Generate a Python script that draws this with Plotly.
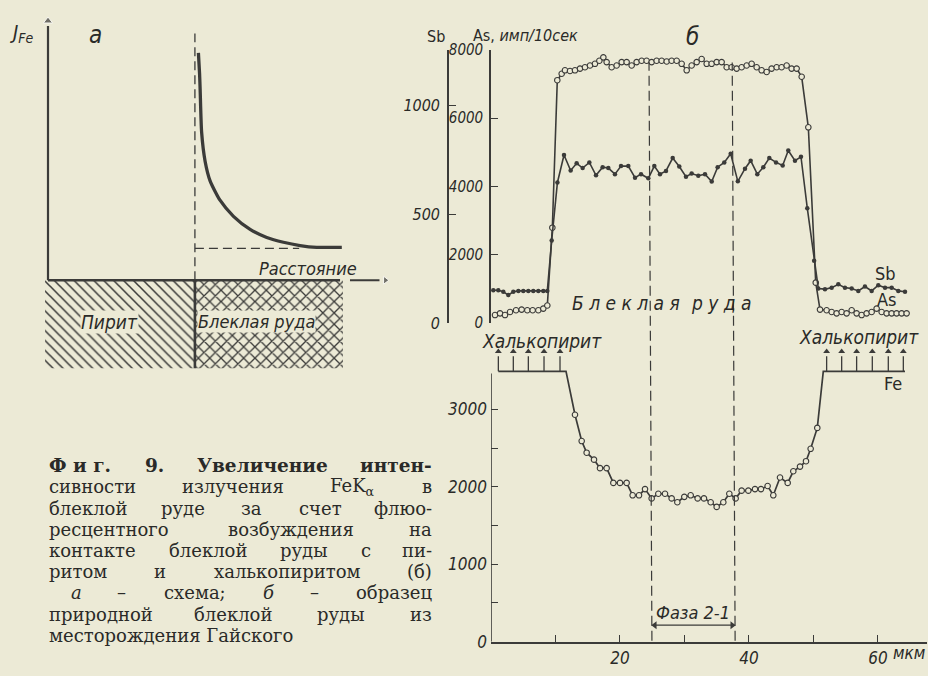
import re
import plotly.graph_objects as go

W, H = 928, 676
BG = "#ecead6"
INK = "#3b3b39"
TXT = "#2a2a28"
NARROW = "Liberation Sans Narrow, DejaVu Sans Condensed, Roboto Condensed, Liberation Sans, sans-serif"
SERIF = "DejaVu Serif, Liberation Serif, serif"

# ---------------- data: panel б, upper graph (As, Sb), x in µm ----------------
as_x = [0.62, 1.40, 2.17, 2.95, 3.88, 4.75, 5.63, 6.46, 7.34, 8.11, 8.73, 9.51, 10.28, 10.96,
        11.47, 12.25, 13.02, 13.80, 14.57, 15.35, 16.12, 16.80, 17.42, 17.93, 18.71, 19.48,
        20.26, 21.03, 21.81, 22.58, 23.36, 24.13, 24.91, 25.68, 26.46, 27.24, 28.01, 28.79,
        29.56, 30.34, 31.11, 31.89, 32.66, 33.44, 34.21, 34.99, 35.76, 36.54, 37.31, 38.09,
        38.86, 39.64, 40.41, 41.19, 41.96, 42.74, 43.51, 44.29, 45.06, 45.84, 46.61, 47.39,
        48.17, 49.20, 50.35, 51.01, 52.04, 52.82, 53.59, 54.37, 55.14, 55.92, 56.69, 57.47,
        58.24, 59.02, 59.79, 60.57, 61.34, 62.12, 62.89, 63.67, 64.44]
as_counts = [230, 280, 230, 320, 370, 390, 370, 370, 370, 420, 510, 2790, 7110, 7300,
             7400, 7380, 7400, 7450, 7490, 7540, 7590, 7680, 7780, 7640, 7490, 7540,
             7640, 7640, 7540, 7640, 7680, 7680, 7640, 7680, 7680, 7660, 7680, 7680,
             7590, 7400, 7540, 7640, 7730, 7590, 7590, 7640, 7640, 7490, 7490, 7450,
             7490, 7540, 7590, 7490, 7400, 7350, 7450, 7490, 7490, 7540, 7450, 7450,
             7210, 5730, 1180, 390, 370, 320, 280, 320, 280, 370, 280, 230,
             280, 320, 420, 320, 280, 280, 280, 280, 280]

sb_x = [0.36, 1.13, 1.91, 2.68, 3.46, 4.24, 5.01, 5.79, 6.56, 7.34, 8.11, 8.73, 9.41, 10.30,
        11.32, 12.35, 13.28, 14.21, 15.25, 16.28, 17.31, 18.19, 19.22, 20.16, 21.29, 22.33,
        23.26, 24.39, 25.32, 26.20, 27.13, 28.17, 29.19, 30.23, 31.11, 32.14, 33.18, 34.22,
        35.14, 36.17, 37.16, 38.27, 39.38, 40.26, 41.29, 42.22, 43.15, 44.19, 45.22, 46.09,
        47.13, 48.06, 49.04, 50.10, 50.75, 51.78, 52.82, 53.85, 54.88, 55.92, 56.95, 57.98,
        59.02, 60.05, 61.09, 62.12, 63.15, 64.19]
sb_counts = [150, 150, 143, 128, 143, 147, 147, 147, 147, 147, 147, 147, 379, 645,
             771, 700, 733, 711, 737, 678, 715, 711, 683, 720, 720, 667,
             683, 664, 720, 683, 698, 757, 718, 671, 686, 676, 683, 649,
             715, 737, 777, 650, 708, 745, 683, 715, 757, 737, 723, 792,
             745, 763, 527, 285, 158, 155, 162, 177, 162, 158, 147, 167,
             147, 173, 162, 162, 147, 143]

# ---------------- data: panel б, lower graph (Fe) ----------------
fe_x = [13.02, 14.06, 14.83, 15.97, 16.90, 17.93, 18.97, 20.00, 21.03, 21.96, 22.95, 23.88,
        24.91, 25.94, 26.98, 28.01, 28.89, 29.97, 30.96, 32.04, 33.02, 34.06, 34.99, 36.02,
        36.95, 37.93, 38.86, 39.90, 40.93, 41.86, 42.89, 43.77, 44.81, 46.00, 46.87, 47.91,
        48.84, 49.56, 50.59]
fe_counts = [2930, 2590, 2440, 2350, 2240, 2240, 2050, 2050, 2050, 1890, 1890, 1970,
             1850, 1910, 1910, 1850, 1800, 1870, 1890, 1850, 1850, 1800, 1740, 1800,
             1910, 1850, 1950, 1950, 1970, 1970, 2010, 1890, 2120, 2050, 2200, 2260,
             2330, 2490, 2760]
fe_sat_level = 3490                     # off-scale level (chalcopyrite)
fe_sat_left_x = [1.14, 11.63]
fe_sat_right_x = [51.52, 64.19]
fe_arrow_tip = 3745
fe_arrows_x = [1.14, 3.46, 5.79, 8.22, 10.70, 52.04, 54.37, 56.69, 59.12, 61.60, 63.93]
phase_left = [24.5, 24.95]              # dashed boundary (top, bottom)
phase_right = [37.4, 37.85]
phase_arrow_level = 213

x_ticks = [20, 40, 60]
x_minor_ticks = [10, 30, 50]
fe_ticks = [0, 1000, 2000, 3000]
fe_minor_ticks = [500, 1500, 2500]
as_ticks = [0, 2000, 4000, 6000, 8000]
sb_ticks = [0, 500, 1000]

# ---------------- data: panel а (schematic) ----------------
a_curve_x = [5.15, 5.19, 5.21, 5.26, 5.38, 5.55, 5.89, 6.35, 6.92, 7.49, 8.06, 8.63, 9.20, 10.06]
a_curve_y = [9.03, 8.20, 7.56, 5.88, 4.72, 3.95, 3.18, 2.54, 2.02, 1.70, 1.51, 1.38, 1.31, 1.31]
a_contact = 5.03
a_level = 1.27
a_level_end = 8.6
a_len = 10.0
a_top = 10.3
a_depth = -3.51
a_left = -0.1
a_right = 10.1
a_arrow = [10.34, 11.55]

caption_lines = [
    ["<b>Ф и г.</b>", "<b>9.</b>", "<b>Увеличение</b>", "<b>интен-</b>"],
    ["сивности", "излучения", "FeK<sub>α</sub>", "в"],
    ["блеклой", "руде", "за", "счет", "флюо-"],
    ["ресцентного", "возбуждения", "на"],
    ["контакте", "блеклой", "руды", "с", "пи-"],
    ["ритом", "и", "халькопиритом", "(б)"],
    ["<i>а</i>", "–", "схема;", "<i>б</i>", "–", "образец"],
    ["природной", "блеклой", "руды", "из"],
    ["месторождения Гайского"],
]
caption_left = [48, 48, 48, 48, 48, 48, 70, 48, 48]
caption_justify = [True] * 8 + [False]


def px(x):
    return x / W


def py(y):
    return 1 - y / H


fig = go.Figure()

# Fe curve (saturated segments + measured points)
fig.add_trace(go.Scatter(
    x=fe_sat_left_x + fe_x + fe_sat_right_x,
    y=[fe_sat_level] * 2 + fe_counts + [fe_sat_level] * 2,
    mode="lines", line=dict(color=INK, width=1.7), xaxis="x", yaxis="y",
    showlegend=False, hoverinfo="skip"))
fig.add_trace(go.Scatter(
    x=fe_x, y=fe_counts, mode="markers",
    marker=dict(symbol="circle", size=5.5, color=BG, line=dict(color=INK, width=1.1)),
    xaxis="x", yaxis="y", showlegend=False))

# saturation arrows (above the Fe scale)
arr_x, arr_y = [], []
for xa in fe_arrows_x:
    arr_x += [xa, xa, None]
    arr_y += [fe_sat_level, fe_arrow_tip - 60, None]
fig.add_trace(go.Scatter(x=arr_x, y=arr_y, mode="lines", line=dict(color=INK, width=1.3),
                         xaxis="x", yaxis="y", showlegend=False, hoverinfo="skip"))
fig.add_trace(go.Scatter(x=fe_arrows_x, y=[fe_arrow_tip] * len(fe_arrows_x), mode="markers",
                         marker=dict(symbol="triangle-up", size=6, color=INK),
                         xaxis="x", yaxis="y", showlegend=False, hoverinfo="skip",
                         cliponaxis=False))

# phase double arrow
fig.add_trace(go.Scatter(x=[phase_left[1] + 0.3, phase_right[1] - 0.3],
                         y=[phase_arrow_level, phase_arrow_level], mode="lines",
                         line=dict(color=INK, width=1.3), xaxis="x", yaxis="y",
                         showlegend=False, hoverinfo="skip"))
fig.add_trace(go.Scatter(x=[phase_left[1] + 0.45, phase_right[1] - 0.45],
                         y=[phase_arrow_level, phase_arrow_level], mode="markers",
                         marker=dict(symbol=["triangle-left", "triangle-right"], size=7, color=INK),
                         xaxis="x", yaxis="y", showlegend=False, hoverinfo="skip"))

# As (open circles)
fig.add_trace(go.Scatter(
    x=as_x, y=as_counts, mode="lines+markers",
    line=dict(color=INK, width=1.6),
    marker=dict(symbol="circle", size=5.5, color=BG, line=dict(color=INK, width=1.1)),
    xaxis="x2", yaxis="y2", showlegend=False))
# Sb (filled dots)
fig.add_trace(go.Scatter(
    x=sb_x, y=sb_counts, mode="lines+markers",
    line=dict(color=INK, width=1.6),
    marker=dict(symbol="circle", size=4.5, color=INK),
    xaxis="x2", yaxis="y3", showlegend=False))

# panel а: hatched zones
fig.add_trace(go.Scatter(
    x=[a_left, a_contact, a_contact, a_left, a_left],
    y=[0, 0, a_depth, a_depth, 0], mode="lines", line=dict(width=0),
    fill="toself", fillcolor=BG,
    fillpattern=dict(shape="\\", size=7, solidity=0.22, fgcolor=INK, bgcolor=BG, fillmode="replace"),
    xaxis="x3", yaxis="y4", showlegend=False, hoverinfo="skip"))
fig.add_trace(go.Scatter(
    x=[a_contact, a_right, a_right, a_contact, a_contact],
    y=[0, 0, a_depth, a_depth, 0], mode="lines", line=dict(width=0),
    fill="toself", fillcolor=BG,
    fillpattern=dict(shape="x", size=8, solidity=0.3, fgcolor=INK, bgcolor=BG, fillmode="replace"),
    xaxis="x3", yaxis="y4", showlegend=False, hoverinfo="skip"))
# panel а: intensity curve
fig.add_trace(go.Scatter(
    x=a_curve_x, y=a_curve_y, mode="lines",
    line=dict(color=INK, width=3.3, shape="spline", smoothing=0.6),
    xaxis="x3", yaxis="y4", showlegend=False, hoverinfo="skip"))
# panel а: axis arrows
fig.add_trace(go.Scatter(x=[0, 0, None, a_arrow[0], a_arrow[1] - 0.2],
                         y=[0, a_top - 0.2, None, 0, 0], mode="lines",
                         line=dict(color=INK, width=2.2), xaxis="x3", yaxis="y4",
                         showlegend=False, hoverinfo="skip"))
fig.add_trace(go.Scatter(x=[0, a_arrow[1]], y=[a_top, 0], mode="markers",
                         marker=dict(symbol=["triangle-up", "triangle-right"], size=[8, 7], color=INK),
                         xaxis="x3", yaxis="y4", showlegend=False, hoverinfo="skip",
                         cliponaxis=False))

tickfont = dict(family=NARROW, size=17, color=TXT, style="italic")
common = dict(showgrid=False, zeroline=False, tickcolor=INK, linecolor=INK)
minor_style = dict(ticks="inside", ticklen=7, tickwidth=1.3, tickcolor=INK, showgrid=False)

fig.update_layout(
    width=W, height=H, margin=dict(l=0, r=0, t=0, b=0),
    paper_bgcolor=BG, plot_bgcolor=BG, showlegend=False,
    xaxis=dict(domain=[px(491), px(927)], range=[0, 67.6], anchor="y",
               showline=True, linewidth=1.6, ticks="inside", ticklen=7, tickwidth=1.3,
               tickvals=x_ticks, tickfont=tickfont,
               minor=dict(tickvals=x_minor_ticks, **minor_style), **common),
    yaxis=dict(domain=[py(651), py(345)], range=[0, 3839], anchor="x",
               showline=False, ticks="inside", ticklen=7, tickwidth=1.3,
               tickvals=fe_ticks, tickfont=tickfont, ticklabelstandoff=3,
               minor=dict(tickvals=fe_minor_ticks, **minor_style), **common),
    xaxis2=dict(domain=[px(491), px(927)], range=[0, 67.6], anchor="y2", visible=False),
    yaxis2=dict(domain=[py(323), py(42)], range=[0, 8000], anchor="free", position=px(490),
                showline=True, linewidth=1.6, ticks="inside", ticklen=7, tickwidth=1.3,
                tickvals=as_ticks, tickfont=dict(tickfont, size=15),
                ticklabelstandoff=3, **common),
    yaxis3=dict(overlaying="y2", range=[0, 1254], anchor="free", position=px(448), side="left",
                showline=True, linewidth=1.6, ticks="inside", ticklen=7, tickwidth=1.3,
                tickvals=sb_ticks, tickfont=dict(tickfont, size=16),
                ticklabelstandoff=4, **common),
    xaxis3=dict(domain=[px(40), px(390)], range=[-0.274, 11.71], anchor="y4", visible=False),
    yaxis4=dict(domain=[py(370), py(10)], range=[-3.51, 10.39], anchor="x3", visible=False),
)

shapes = []
# Fe y-axis line (up to the top of the scale)
shapes.append(dict(type="line", xref="x", yref="y", x0=0, x1=0, y0=0, y1=3463,
                   line=dict(color=INK, width=1.6)))
# phase boundaries through both graphs
for xb in (phase_left, phase_right):
    shapes.append(dict(type="line", xref="x", yref="paper", x0=xb[1], x1=xb[0],
                       y0=py(650), y1=py(55), line=dict(color=INK, width=1.2, dash="10px,5px")))
# panel а lines
shapes.append(dict(type="line", xref="x3", yref="y4", x0=0, x1=a_len, y0=0, y1=0,
                   line=dict(color=INK, width=2.6)))
shapes.append(dict(type="line", xref="x3", yref="y4", x0=a_contact, x1=a_contact, y0=a_depth, y1=0,
                   line=dict(color=INK, width=2.6)))
shapes.append(dict(type="line", xref="x3", yref="y4", x0=a_contact, x1=a_contact, y0=0, y1=9.8,
                   line=dict(color=INK, width=1.3, dash="9px,5px")))
shapes.append(dict(type="line", xref="x3", yref="y4", x0=a_contact, x1=a_level_end,
                   y0=a_level, y1=a_level, line=dict(color=INK, width=1.3, dash="9px,5px")))
fig.update_layout(shapes=shapes)

ann = []


def lab(text, x, y, size, italic=True, anchor="center", bg=None, family=NARROW):
    d = dict(text=text, x=px(x), y=py(y), xref="paper", yref="paper", showarrow=False,
             xanchor=anchor, yanchor="middle", borderpad=0,
             font=dict(family=family, size=size, color=TXT,
                       style="italic" if italic else "normal"))
    if bg:
        d["bgcolor"] = bg
    ann.append(d)


lab("J<sub>Fe</sub>", 22, 25, 20)
lab("а", 95, 27, 24)
lab("Расстояние", 308, 267, 18)
lab("Пирит", 109, 322, 19, bg=BG)
lab("Блеклая руда", 256, 322, 18, bg=BG)
lab("Sb", 436, 28, 16, italic=False)
lab("As, <i>имп/10сек</i>", 525, 27, 16, italic=False)
lab("б", 692, 29, 24)
lab("Б л е к л а я", 626, 302, 19)
lab("р у д а", 721, 302, 19)
lab("Sb", 885, 272, 18, italic=False)
lab("As", 887, 299, 18, italic=False)
lab("Халькопирит", 542, 342, 19)
lab("Халькопирит", 859, 337, 19)
lab("Fe", 893, 385, 18, italic=False)
lab("Фаза 2-1", 693, 621, 18)
lab("мкм", 909, 663, 17)

# caption (justified by word placement)
CAP = 18


def est_w(s, size):
    bold = "<b>" in s
    s = re.sub(r"<[^>]+>", "", s)
    w = 0.0
    for ch in s:
        if ch == " ":
            w += 0.32
        elif ch in ".,;:":
            w += 0.32
        elif ch in "-()":
            w += 0.37
        elif ch == "–":
            w += 0.5
        elif ch in "мшщжюыФЖШЩЮМ":
            w += 0.86
        elif ch.isupper():
            w += 0.72
        else:
            w += 0.62
    return w * size * (1.12 if bold else 1.0)


RIGHT = 433
for i, words in enumerate(caption_lines):
    y = 470 + 21.8 * i
    left = caption_left[i]
    size = 18.5 if i == 0 else CAP
    font = dict(family=SERIF, size=size, color=TXT)
    if not caption_justify[i] or len(words) == 1:
        ann.append(dict(text=" ".join(words), x=px(left), y=py(y), xref="paper", yref="paper",
                        showarrow=False, xanchor="left", yanchor="middle", borderpad=0, font=font))
        continue
    widths = [est_w(w, size) for w in words]
    gap = (RIGHT - left - sum(widths)) / (len(words) - 1)
    cur = left
    for j, (wd, wtxt) in enumerate(zip(widths, words)):
        if j == 0:
            xa, anc = left, "left"
        elif j == len(words) - 1:
            xa, anc = RIGHT, "right"
        else:
            xa, anc = cur + wd / 2, "center"
        ann.append(dict(text=wtxt, x=px(xa), y=py(y), xref="paper", yref="paper",
                        showarrow=False, xanchor=anc, yanchor="middle", borderpad=0, font=font))
        cur += wd + gap

fig.update_layout(annotations=ann)
fig.write_html(
    "out.html",
    config={"displayModeBar": False},
    post_script="document.body.style.margin='0';document.body.style.padding='0';"
                "document.body.style.background='" + BG + "';",
)
